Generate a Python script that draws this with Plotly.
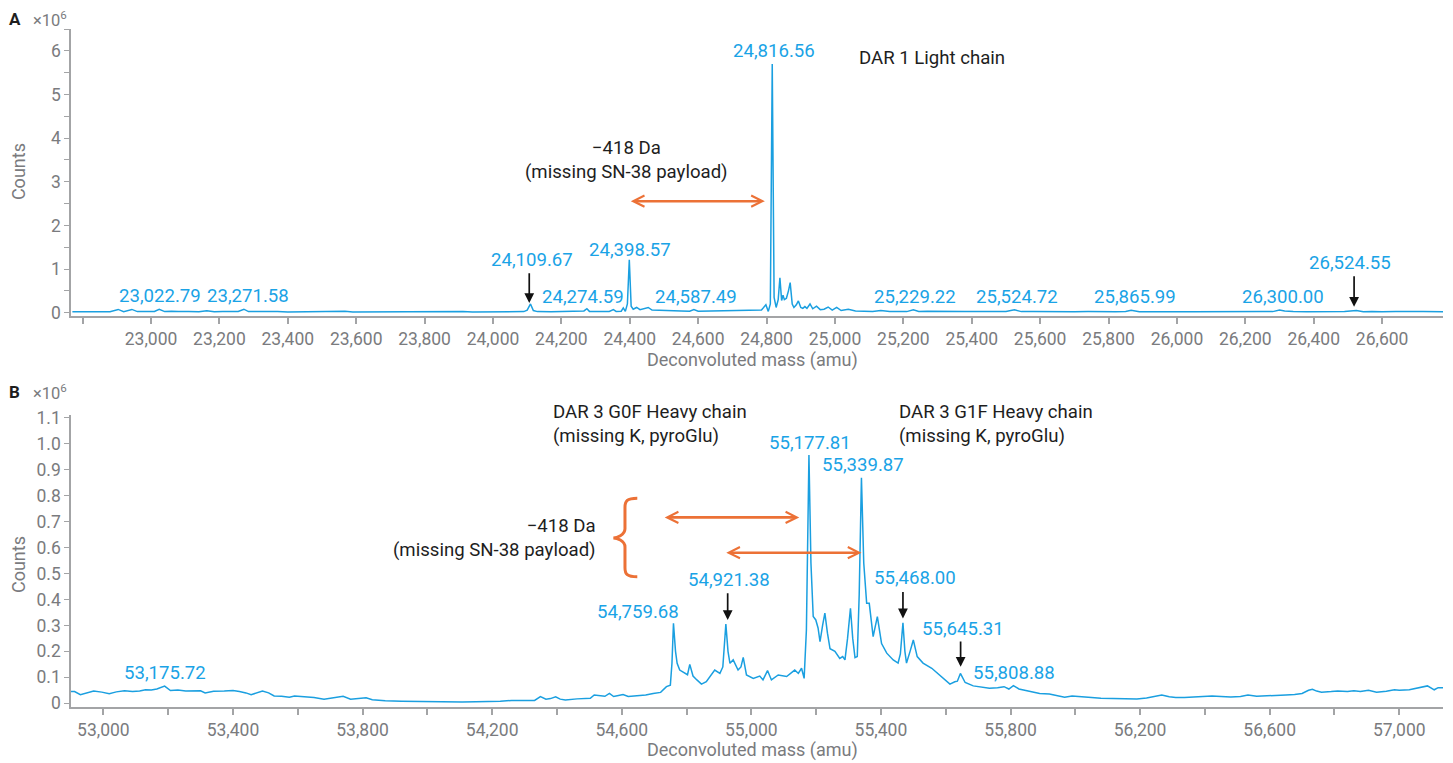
import plotly.graph_objects as go

# ---------------- Panel A: light chain deconvoluted spectrum (counts x10^6) ----------------
mass_a = [
    22770, 22800, 22830, 22860, 22880, 22904, 22920, 22944, 22960, 22990,
    23010, 23024, 23040, 23060, 23080, 23110, 23140, 23163, 23185, 23210,
    23240, 23255, 23271.58, 23285, 23310, 23340, 23370, 23400, 23440, 23480,
    23520, 23567, 23590, 23640, 23700, 23760, 23820, 23870, 23912, 23940,
    23990, 24029, 24060, 24090, 24100, 24109.67, 24118, 24130, 24170, 24210,
    24250, 24266, 24274.59, 24282, 24310, 24340, 24352, 24360, 24375, 24381,
    24387, 24393, 24398.57, 24404, 24410, 24420, 24430, 24440, 24454, 24465,
    24490, 24520, 24550, 24575, 24587.49, 24600, 24640, 24680, 24720, 24760,
    24785, 24798, 24805, 24811, 24816.56, 24822, 24828, 24834, 24839, 24844,
    24848, 24852, 24858, 24864, 24869, 24875, 24880, 24887, 24893, 24900,
    24906, 24912, 24918, 24927, 24935, 24946, 24957, 24968, 24980, 24992,
    25005, 25018, 25039, 25060, 25090, 25110, 25134, 25160, 25190, 25210,
    25229.22, 25245, 25270, 25300, 25340, 25380, 25420, 25460, 25500, 25524.72,
    25545, 25580, 25620, 25660, 25700, 25740, 25780, 25820, 25850, 25865.99,
    25890, 25930, 25970, 26010, 26050, 26090, 26130, 26170, 26210, 26250,
    26280, 26300.00, 26315, 26340, 26380, 26420, 26460, 26490, 26524.55, 26545,
    26570, 26600, 26640, 26680, 26720, 26778,
]
counts_a = [
    0.020, 0.025, 0.018, 0.030, 0.022, 0.075, 0.025, 0.075, 0.025, 0.030,
    0.028, 0.080, 0.025, 0.035, 0.025, 0.030, 0.022, 0.045, 0.022, 0.030,
    0.020, 0.030, 0.080, 0.025, 0.030, 0.020, 0.025, 0.018, 0.020, 0.015,
    0.018, 0.035, 0.015, 0.018, 0.015, 0.018, 0.015, 0.020, 0.030, 0.018,
    0.020, 0.030, 0.020, 0.025, 0.060, 0.200, 0.050, 0.025, 0.022, 0.025,
    0.025, 0.040, 0.090, 0.030, 0.028, 0.030, 0.070, 0.030, 0.035, 0.110,
    0.030, 0.200, 1.210, 0.150, 0.080, 0.120, 0.070, 0.090, 0.120, 0.060,
    0.050, 0.040, 0.040, 0.035, 0.070, 0.035, 0.040, 0.035, 0.040, 0.045,
    0.060, 0.180, 0.030, 0.200, 5.700, 0.350, 0.120, 0.300, 0.800, 0.280,
    0.400, 0.300, 0.330, 0.500, 0.690, 0.200, 0.120, 0.180, 0.270, 0.120,
    0.100, 0.140, 0.100, 0.200, 0.090, 0.150, 0.070, 0.080, 0.130, 0.060,
    0.120, 0.050, 0.080, 0.040, 0.040, 0.030, 0.050, 0.025, 0.030, 0.025,
    0.065, 0.030, 0.035, 0.028, 0.030, 0.025, 0.030, 0.022, 0.028, 0.065,
    0.025, 0.025, 0.020, 0.025, 0.020, 0.025, 0.018, 0.022, 0.028, 0.055,
    0.020, 0.025, 0.018, 0.022, 0.020, 0.025, 0.018, 0.022, 0.025, 0.030,
    0.025, 0.060, 0.040, 0.025, 0.020, 0.025, 0.020, 0.030, 0.050, 0.022,
    0.030, 0.020, 0.025, 0.018, 0.025, 0.020,
]

# ---------------- Panel B: heavy chain deconvoluted spectrum (counts x10^6) ----------------
mass_b = [
    52900, 52911, 52929, 52950, 52970, 52995, 53018, 53040, 53065, 53090,
    53112, 53130, 53148, 53165, 53175.72, 53189, 53207, 53230, 53254, 53280,
    53300, 53314, 53340, 53373, 53400, 53420, 53440, 53456, 53475, 53491,
    53510, 53527, 53550, 53574, 53590, 53621, 53650, 53681, 53700, 53720,
    53740, 53763, 53790, 53811, 53830, 53870, 53920, 53960, 53988, 54030,
    54070, 54107, 54150, 54190, 54225, 54260, 54300, 54331, 54349, 54366,
    54380, 54396, 54410, 54426, 54462, 54490, 54503, 54515, 54535, 54548,
    54562, 54575, 54590, 54604, 54620, 54645, 54674, 54697, 54720, 54738,
    54750, 54755, 54759.68, 54766, 54771, 54779, 54795, 54803, 54810, 54820,
    54832, 54846, 54861, 54875, 54887, 54903, 54912, 54921.38, 54928, 54934,
    54944, 54959, 54968, 54975, 54985, 55006, 55026, 55036, 55050, 55062,
    55083, 55109, 55134, 55145, 55155, 55163, 55170, 55177.81, 55184, 55191,
    55199, 55206, 55212, 55220, 55227, 55235, 55243, 55258, 55273, 55282,
    55289, 55297, 55306, 55313, 55320, 55327, 55333, 55339.87, 55347, 55356,
    55364, 55376, 55389, 55402, 55418, 55438, 55453, 55460, 55468.00, 55474,
    55479, 55490, 55500, 55512, 55530, 55557, 55582, 55613, 55628, 55636,
    55645.31, 55660, 55685, 55706, 55735, 55760, 55780, 55795, 55808.88, 55826,
    55840, 55860, 55890, 55920, 55945, 55967, 55990, 56020, 56050, 56079,
    56110, 56150, 56190, 56220, 56245, 56267, 56290, 56310, 56337, 56370,
    56400, 56422, 56450, 56480, 56510, 56533, 56560, 56590, 56620, 56650,
    56677, 56700, 56720, 56732, 56745, 56760, 56790, 56810, 56840, 56860,
    56880, 56905, 56930, 56960, 56985, 57000, 57031, 57060, 57087, 57108,
    57120, 57135,
]
counts_b = [
    0.045, 0.045, 0.033, 0.040, 0.047, 0.043, 0.037, 0.044, 0.048, 0.045,
    0.047, 0.052, 0.051, 0.055, 0.060, 0.066, 0.049, 0.051, 0.047, 0.046,
    0.048, 0.040, 0.046, 0.047, 0.049, 0.045, 0.040, 0.033, 0.042, 0.047,
    0.040, 0.028, 0.027, 0.023, 0.028, 0.026, 0.022, 0.016, 0.020, 0.022,
    0.027, 0.016, 0.018, 0.021, 0.014, 0.010, 0.008, 0.007, 0.006, 0.007,
    0.005, 0.005, 0.006, 0.006, 0.008, 0.011, 0.012, 0.011, 0.026, 0.016,
    0.018, 0.025, 0.016, 0.013, 0.017, 0.020, 0.019, 0.032, 0.028, 0.027,
    0.038, 0.026, 0.030, 0.034, 0.026, 0.028, 0.032, 0.038, 0.042, 0.064,
    0.070, 0.154, 0.308, 0.200, 0.154, 0.128, 0.115, 0.110, 0.150, 0.105,
    0.090, 0.074, 0.083, 0.105, 0.128, 0.115, 0.140, 0.305, 0.200, 0.154,
    0.167, 0.128, 0.140, 0.177, 0.109, 0.096, 0.105, 0.090, 0.126, 0.090,
    0.109, 0.103, 0.128, 0.115, 0.135, 0.096, 0.282, 0.956, 0.540, 0.334,
    0.321, 0.290, 0.237, 0.300, 0.347, 0.270, 0.210, 0.200, 0.173, 0.180,
    0.167, 0.250, 0.366, 0.250, 0.176, 0.180, 0.420, 0.869, 0.540, 0.385,
    0.385, 0.257, 0.334, 0.230, 0.193, 0.167, 0.155, 0.190, 0.310, 0.200,
    0.155, 0.200, 0.244, 0.180, 0.155, 0.135, 0.109, 0.074, 0.083, 0.085,
    0.115, 0.080, 0.067, 0.062, 0.058, 0.060, 0.064, 0.055, 0.068, 0.055,
    0.051, 0.045, 0.038, 0.036, 0.030, 0.023, 0.028, 0.026, 0.022, 0.019,
    0.018, 0.017, 0.017, 0.020, 0.027, 0.032, 0.025, 0.022, 0.022, 0.025,
    0.027, 0.028, 0.026, 0.024, 0.026, 0.032, 0.027, 0.028, 0.030, 0.032,
    0.034, 0.038, 0.050, 0.054, 0.047, 0.043, 0.045, 0.047, 0.045, 0.048,
    0.045, 0.050, 0.043, 0.046, 0.052, 0.050, 0.052, 0.060, 0.067, 0.052,
    0.060, 0.060,
]

# ---------------- Peak labels: (text, x, y) ----------------
labels_a = [
    ("23,022.79", 23026, 0.384), ("23,271.58", 23284, 0.384),
    ("24,109.67", 24113, 1.213), ("24,274.59", 24264, 0.368),
    ("24,398.57", 24402, 1.427), ("24,587.49", 24593, 0.368),
    ("24,816.56", 24821, 6.000), ("25,229.22", 25235, 0.354),
    ("25,524.72", 25533, 0.354), ("25,865.99", 25876, 0.354),
    ("26,300.00", 26311, 0.354), ("26,524.55", 26506, 1.137),
]
labels_b = [
    ("53,175.72", 53189, 0.116), ("54,759.68", 54651, 0.353),
    ("54,921.38", 54932, 0.475), ("55,177.81", 55181, 1.004),
    ("55,339.87", 55344, 0.918), ("55,468.00", 55504, 0.481),
    ("55,645.31", 55652, 0.285), ("55,808.88", 55810, 0.118),
]
# black pointer arrows: (x, y_tip, y_tail)
pointers_a = [(24106, 0.223, 0.937), (26518, 0.138, 0.868)]
pointers_b = [(54927, 0.321, 0.430), (55468, 0.327, 0.434), (55646, 0.141, 0.244)]
# orange mass-shift arrows: (x_start, x_end, y)
shifts_a = [(24398.57, 24795, 2.555)]
shifts_b = [(54728, 55148, 0.716), (54918, 55340, 0.580)]

# ---------------- Axis ticks ----------------
xticks_a = list(range(22800, 26601, 200))
xtext_a = [""] + [f"{v:,}" for v in xticks_a[1:]]
yticks_a = [i * 0.5 for i in range(14)]
ytext_a = [str(int(v)) if v == int(v) else "" for v in yticks_a]

xticks_b = list(range(53000, 57001, 200))
xtext_b = [f"{v:,}" if (v - 53000) % 400 == 0 else "" for v in xticks_b]
yticks_b = [i / 10 for i in range(12)]
ytext_b = ["0"] + [f"{v:.1f}" for v in yticks_b[1:]]

BLUE = "#1A9FE0"
LABEL_BLUE = "#1AA3E6"
ORANGE = "#EC7136"
GRAY_TXT = "#7A7B7E"
GRAY_AX = "#A3A4A6"
INK = "#1E1E1E"
FONT = "Roboto"

fig = go.Figure()
fig.add_trace(go.Scatter(x=mass_a, y=counts_a, mode="lines", xaxis="x", yaxis="y",
                         line=dict(color=BLUE, width=1.5), hoverinfo="skip", showlegend=False))
fig.add_trace(go.Scatter(x=mass_b, y=counts_b, mode="lines", xaxis="x2", yaxis="y2",
                         line=dict(color=BLUE, width=1.5), hoverinfo="skip", showlegend=False))

axis_common = dict(showgrid=False, zeroline=False, showline=True, linecolor=GRAY_AX,
                   ticks="outside", tickcolor=GRAY_AX,
                   tickfont=dict(family=FONT, size=17.5, color=GRAY_TXT))

fig.update_layout(
    width=1453, height=763,
    margin=dict(l=71, r=10, t=29, b=56),
    paper_bgcolor="white", plot_bgcolor="white",
    font=dict(family=FONT, color=INK),
    xaxis=dict(axis_common, domain=[0, 1], anchor="y", range=[22766, 26778],
               tickmode="array", tickvals=xticks_a, ticktext=xtext_a,
               linewidth=2, ticklen=6, tickwidth=1.5),
    yaxis=dict(axis_common, domain=[0.5767, 1], anchor="x", range=[-0.0756, 6.5],
               tickmode="array", tickvals=yticks_a, ticktext=ytext_a,
               linewidth=1.5, ticklen=5, tickwidth=1.2),
    xaxis2=dict(axis_common, domain=[0, 1], anchor="y2", range=[52900, 57135],
                tickmode="array", tickvals=xticks_b, ticktext=xtext_b,
                linewidth=2, ticklen=6, tickwidth=1.5),
    yaxis2=dict(axis_common, domain=[0, 0.4307], anchor="x2", range=[-0.0143, 1.1104],
                tickmode="array", tickvals=yticks_b, ticktext=ytext_b,
                linewidth=1.5, ticklen=5, tickwidth=1.2),
)

ann = []


def text_note(text, x, y, xref, yref, size=18.6, color=INK, xanchor="center",
              yanchor="middle", **kw):
    ann.append(dict(text=text, x=x, y=y, xref=xref, yref=yref, showarrow=False,
                    xanchor=xanchor, yanchor=yanchor,
                    font=dict(family=FONT, size=size, color=color), **kw))


for t, x, y in labels_a:
    text_note(t, x, y, "x", "y", size=18.6, color=LABEL_BLUE)
for t, x, y in labels_b:
    text_note(t, x, y, "x2", "y2", size=18.6, color=LABEL_BLUE)

for (pts, xr, yr) in ((pointers_a, "x", "y"), (pointers_b, "x2", "y2")):
    for x, y_tip, y_tail in pts:
        ann.append(dict(text="", x=x, y=y_tip, ax=x, ay=y_tail, xref=xr, yref=yr,
                        axref=xr, ayref=yr, showarrow=True, arrowhead=2, arrowsize=1.15,
                        arrowwidth=1.7, arrowcolor="#111111", standoff=0))

for (pts, xr, yr) in ((shifts_a, "x", "y"), (shifts_b, "x2", "y2")):
    for x0, x1, y in pts:
        ann.append(dict(text="", x=x1, y=y, ax=x0, ay=y, xref=xr, yref=yr,
                        axref=xr, ayref=yr, showarrow=True, arrowside="end+start",
                        arrowhead=5, startarrowhead=5, arrowsize=0.85, startarrowsize=0.85,
                        arrowwidth=2.6, arrowcolor=ORANGE, standoff=0, startstandoff=0))

# descriptive notes
text_note("\u2212418 Da<br>(missing SN-38 payload)", 24390, 3.51, "x", "y", align="center")
text_note("DAR 1 Light chain", 25283, 5.83, "x", "y")
text_note("DAR 3 G0F Heavy chain<br>(missing K, pyroGlu)", 54381, 1.076, "x2", "y2",
          xanchor="left", align="left")
text_note("DAR 3 G1F Heavy chain<br>(missing K, pyroGlu)", 55451, 1.076, "x2", "y2",
          xanchor="left", align="left")
text_note("\u2212418 Da<br>(missing SN-38 payload)", 54526, 0.636, "x2", "y2",
          xanchor="right", align="right")

# panel letters, multipliers and axis titles
for letter, ypos in (("A", 1.0147), ("B", 0.465)):
    text_note(f"<b>{letter}</b>", -0.0465, ypos, "paper", "paper", size=17, color=INK,
              xanchor="left")
    text_note("\u00d710<sup>6</sup>", -0.029, ypos, "paper", "paper", size=16.5, color=GRAY_TXT,
              xanchor="left")
for ypos in (0.789, 0.2094):
    text_note("Counts", -0.0386, ypos, "paper", "paper", size=18, color=GRAY_TXT, textangle=-90)
for ypos in (0.5125, -0.0640):
    text_note("Deconvoluted mass (amu)", 0.4964, ypos, "paper", "paper", size=18,
              color=GRAY_TXT)

fig.update_layout(annotations=ann)


def brace_path(x_tip, x_spine, x_end, y_top, y_mid, y_bot, dy):
    """Left-facing curly brace in data coordinates."""
    return (f"M {x_end},{y_top} C {x_spine + 6},{y_top} {x_spine},{y_top - dy * 0.3} "
            f"{x_spine},{y_top - dy} L {x_spine},{y_mid + dy} "
            f"C {x_spine},{y_mid + dy * 0.3} {x_tip + 10},{y_mid} {x_tip},{y_mid} "
            f"C {x_tip + 10},{y_mid} {x_spine},{y_mid - dy * 0.3} {x_spine},{y_mid - dy} "
            f"L {x_spine},{y_bot + dy} C {x_spine},{y_bot + dy * 0.3} {x_spine + 6},{y_bot} "
            f"{x_end},{y_bot}")


fig.add_shape(type="path", xref="x2", yref="y2",
              path=brace_path(54574, 54610, 54648, 0.790, 0.637, 0.487, 0.035),
              line=dict(color=ORANGE, width=3))

fig.write_html("out.html")
